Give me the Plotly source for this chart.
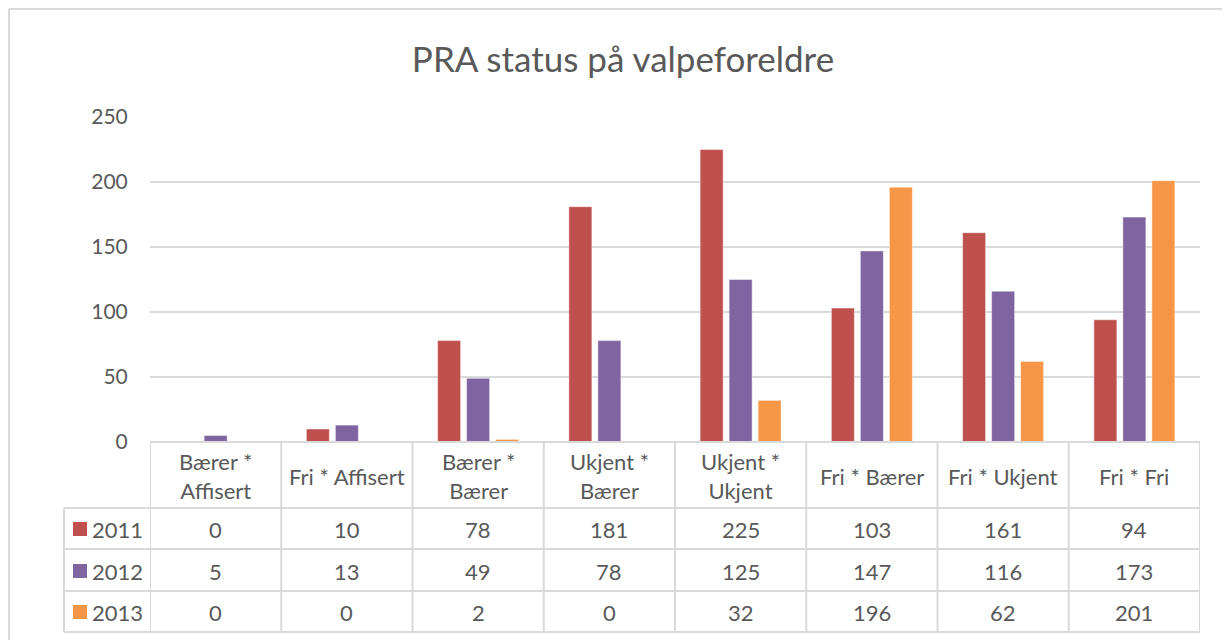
import plotly.graph_objects as go

categories = ["Bærer *<br>Affisert", "Fri * Affisert", "Bærer *<br>Bærer", "Ukjent *<br>Bærer",
              "Ukjent *<br>Ukjent", "Fri * Bærer", "Fri * Ukjent", "Fri * Fri"]
series_names = ["2011", "2012", "2013"]
values_2011 = [0, 10, 78, 181, 225, 103, 161, 94]
values_2012 = [5, 13, 49, 78, 125, 147, 116, 173]
values_2013 = [0, 0, 2, 0, 32, 196, 62, 201]
colors = ["#C0504D", "#8064A2", "#F79646"]
y_ticks = [0, 50, 100, 150, 200, 250]

FONT = "Lato"
TXT = "#595959"
GRID = "#D9D9D9"
OFF = 8  # browser body margin

W, H = 1230, 640
L, T = 150 - OFF, 117 - OFF
R = W - (1200 - OFF)
B = H - (442 - OFF)
PW, PH = W - L - R, H - T - B

def px(xp):
    return (xp - OFF - L) / PW

def py(yp):
    return (T + PH - (yp - OFF)) / PH

series = [values_2011, values_2012, values_2013]
x_idx = list(range(len(categories)))

fig = go.Figure()
for name, vals, c in zip(series_names, series, colors):
    fig.add_trace(go.Bar(x=x_idx, y=vals, name=name,
                         marker=dict(color=c, line=dict(color="rgba(255,255,255,0.45)", width=1))))

shapes = []
line = dict(color=GRID, width=2)
row_lines = [442, 508, 549, 591, 632]
for i, yp in enumerate(row_lines):
    if i == 0:
        shapes.append(dict(type="line", xref="x", yref="paper", x0=-0.5, x1=7.5, y0=py(yp), y1=py(yp), line=line))
    else:
        shapes.append(dict(type="line", xref="paper", yref="paper", x0=px(64), x1=1.0, y0=py(yp), y1=py(yp), line=line))
for k in range(len(categories) + 1):
    shapes.append(dict(type="line", xref="x", yref="paper", x0=k - 0.5, x1=k - 0.5, y0=py(442), y1=py(632), line=line))
shapes.append(dict(type="line", xref="paper", yref="paper", x0=px(64), x1=px(64), y0=py(508), y1=py(632), line=line))
# outer chart border
shapes.append(dict(type="line", xref="paper", yref="paper", x0=px(9), x1=px(9), y0=py(9), y1=py(660),
                   line=dict(color=GRID, width=2)))
shapes.append(dict(type="line", xref="paper", yref="paper", x0=px(9), x1=px(1250), y0=py(9), y1=py(9),
                   line=dict(color=GRID, width=2)))

annotations = []
for i, cat in enumerate(categories):
    annotations.append(dict(x=i, y=py(476), xref="x", yref="paper", text=cat, showarrow=False,
                            xanchor="center", yanchor="middle",
                            font=dict(family=FONT, size=22, color=TXT), align="center"))
row_centers = [529, 571, 612]
for name, vals, c, yc in zip(series_names, series, colors, row_centers):
    shapes.append(dict(type="rect", xref="paper", yref="paper", x0=px(73), x1=px(87), y0=py(yc - 7), y1=py(yc + 7),
                       fillcolor=c, line=dict(width=0)))
    annotations.append(dict(x=px(90), y=py(yc), xref="paper", yref="paper", text=name, showarrow=False,
                            xanchor="left", yanchor="middle", font=dict(family=FONT, size=22, color=TXT)))
    for i, v in enumerate(vals):
        annotations.append(dict(x=i, y=py(yc), xref="x", yref="paper", text=str(v), showarrow=False,
                                xanchor="center", yanchor="middle", font=dict(family=FONT, size=22, color=TXT)))

fig.update_layout(
    width=W, height=H,
    margin=dict(l=L, r=R, t=T, b=B, autoexpand=False),
    paper_bgcolor="white", plot_bgcolor="white",
    barmode="group", bargap=0.337, bargroupgap=0.207,
    showlegend=False,
    title=dict(text="PRA status på valpeforeldre", x=0.5, xanchor="center",
               y=1 - (60 - OFF) / H, yanchor="middle",
               font=dict(family=FONT, size=35, color=TXT)),
    xaxis=dict(type="linear", range=[-0.5, 7.5], showticklabels=False, showgrid=False, zeroline=False,
               showline=False, fixedrange=True),
    yaxis=dict(range=[0, 250], tickvals=y_ticks, showgrid=True, gridcolor=GRID, gridwidth=2, zeroline=False,
               showline=False, ticks="outside", ticklen=17, tickcolor="rgba(0,0,0,0)",
               tickfont=dict(family=FONT, size=21, color=TXT)),
    shapes=shapes, annotations=annotations,
)
fig.write_html("out.html")
